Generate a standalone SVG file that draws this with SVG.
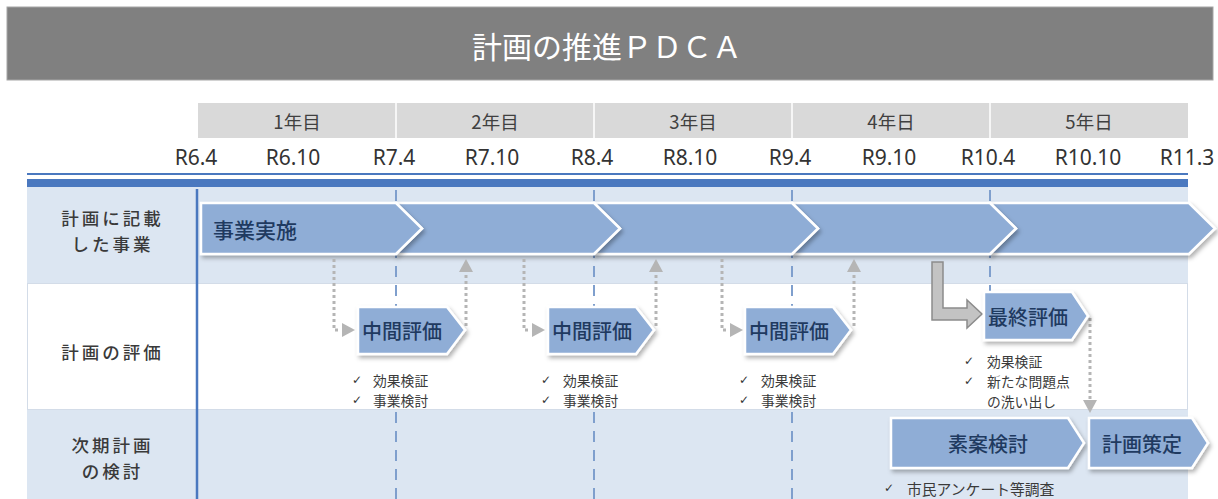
<svg xmlns="http://www.w3.org/2000/svg" width="1218" height="499" viewBox="0 0 1218 499">
<defs>
<style>
.jp{font-family:"Noto Sans CJK JP","Noto Sans",sans-serif;}
.lbl{font-family:"Noto Sans CJK JP",sans-serif;font-size:17.5px;font-weight:500;letter-spacing:3px;fill:#3a3a3a;text-anchor:middle;dominant-baseline:central;}
.yr{font-family:"Noto Sans CJK JP",sans-serif;font-size:18.5px;fill:#404040;text-anchor:middle;dominant-baseline:central;}
.dt{font-family:"Noto Sans","Noto Sans CJK JP",sans-serif;font-size:21px;fill:#333;text-anchor:middle;dominant-baseline:central;}
.bx{fill:#8fadd6;stroke:#ffffff;stroke-width:2.5;filter:url(#sh);}
.bt{font-family:"Noto Sans CJK JP",sans-serif;font-size:20px;font-weight:500;fill:#1f3a60;text-anchor:middle;dominant-baseline:central;}
.ck{font-family:"DejaVu Sans",sans-serif;font-size:12px;fill:#333;dominant-baseline:central;}
.ct{font-family:"Noto Sans CJK JP",sans-serif;font-size:13.8px;fill:#3a3a3a;dominant-baseline:central;}
.dash{stroke:#7f9fcd;stroke-width:2;stroke-dasharray:11 8;fill:none;}
.dot{stroke:#b5b5b5;stroke-width:3;stroke-dasharray:3 3;fill:none;}
.ah{fill:#b5b5b5;}
</style>
<filter id="sh" x="-10%" y="-20%" width="130%" height="160%">
<feDropShadow dx="2" dy="3" stdDeviation="2" flood-color="#000" flood-opacity="0.3"/>
</filter>
</defs>

<!-- title -->
<g id="title">
<rect x="7" y="7" width="1206" height="73" fill="#808080" stroke="#a6a6a6" stroke-width="1"/>
<text x="607" y="45" class="jp" font-size="30" fill="#ffffff" text-anchor="middle" dominant-baseline="central">計画の推進ＰＤＣＡ</text>
</g>

<!-- year header -->
<g id="years">
<rect x="198" y="103" width="990" height="35" fill="#d9d9d9"/>
<line x1="396" y1="103" x2="396" y2="138" stroke="#ffffff" stroke-width="1.5"/>
<line x1="594" y1="103" x2="594" y2="138" stroke="#ffffff" stroke-width="1.5"/>
<line x1="792" y1="103" x2="792" y2="138" stroke="#ffffff" stroke-width="1.5"/>
<line x1="990" y1="103" x2="990" y2="138" stroke="#ffffff" stroke-width="1.5"/>
<text class="yr" x="297" y="121">1年目</text>
<text class="yr" x="495" y="121">2年目</text>
<text class="yr" x="693" y="121">3年目</text>
<text class="yr" x="891" y="121">4年日</text>
<text class="yr" x="1089" y="121">5年日</text>
</g>

<g id="dates">
<text class="dt" x="196" y="157">R6.4</text>
<text class="dt" x="293" y="157">R6.10</text>
<text class="dt" x="394" y="157">R7.4</text>
<text class="dt" x="492" y="157">R7.10</text>
<text class="dt" x="592" y="157">R8.4</text>
<text class="dt" x="690" y="157">R8.10</text>
<text class="dt" x="790" y="157">R9.4</text>
<text class="dt" x="889" y="157">R9.10</text>
<text class="dt" x="988" y="157">R10.4</text>
<text class="dt" x="1088" y="157">R10.10</text>
<text class="dt" x="1187" y="157">R11.3</text>
</g>

<!-- grid -->
<g id="grid">
<rect x="27" y="173" width="1161" height="2" fill="#4a78bf"/>
<rect x="27" y="179" width="1161" height="8" fill="#4a78bf"/>
<rect x="27" y="187" width="1161" height="96" fill="#dce6f2"/>
<rect x="27.5" y="283.5" width="1160" height="126" fill="#ffffff" stroke="#d3dce8" stroke-width="1"/>
<rect x="27" y="410" width="1161" height="89" fill="#dce6f2"/>
<line x1="197" y1="189" x2="197" y2="499" stroke="#4a78bf" stroke-width="2.5"/>
<path class="dash" d="M396,190 V307 M396,412 V499 M594,190 V307 M594,412 V499 M792,190 V307 M792,412 V499 M990,190 V291"/>
</g>

<!-- row labels -->
<g id="row-labels">
<text class="lbl" x="112.5" y="217">計画に記載</text>
<text class="lbl" x="112.5" y="243">した事業</text>
<text class="lbl" x="112.5" y="351">計画の評価</text>
<text class="lbl" x="112.5" y="444">次期計画</text>
<text class="lbl" x="112.5" y="470">の検討</text>
</g>

<!-- chevron band -->
<g id="jigyo">
<path class="bx" d="M990,203 H1189 L1215,228.5 L1189,254 H990 L1016,228.5 Z"/>
<path class="bx" d="M792,203 H990 L1016,228.5 L990,254 H792 L818,228.5 Z"/>
<path class="bx" d="M594,203 H792 L818,228.5 L792,254 H594 L620,228.5 Z"/>
<path class="bx" d="M396,203 H594 L620,228.5 L594,254 H396 L422,228.5 Z"/>
<path class="bx" d="M201,203 H396 L422,228.5 L396,254 H201 Z"/>
<text class="bt" x="213" y="229" style="text-anchor:start;font-size:21px">事業実施</text>
</g>

<!-- connectors -->
<g id="connectors">
<path class="dot" d="M334,259 V330 H340"/>
<polygon class="ah" points="342,323 355,330 342,337"/>
<path class="dot" d="M466,326 V272"/>
<polygon class="ah" points="459,272 466,259 473,272"/>
<path class="dot" d="M524,259 V330 H530"/>
<polygon class="ah" points="532,323 545,330 532,337"/>
<path class="dot" d="M656,326 V272"/>
<polygon class="ah" points="649,272 656,259 663,272"/>
<path class="dot" d="M722,259 V330 H728"/>
<polygon class="ah" points="730,323 743,330 730,337"/>
<path class="dot" d="M854,326 V272"/>
<polygon class="ah" points="847,272 854,259 861,272"/>
<path class="dot" d="M1090,318 V400"/>
<polygon class="ah" points="1083,400 1090,413 1097,400"/>
<polygon points="932,262 943,262 943,308 967,308 967,300 982,314 967,328 967,320 932,320" fill="#c3c3c3" stroke="#8c8c8c" stroke-width="1.5"/>
</g>

<!-- evaluation nodes -->
<g id="eval1">
<path class="bx" d="M358,307 H447 L465,330 L447,354 H358 Z"/>
<text class="bt" x="402" y="330">中間評価</text>
<text class="ck" x="352" y="380">✓</text><text class="ct" x="373" y="380">効果検証</text>
<text class="ck" x="352" y="400">✓</text><text class="ct" x="373" y="400">事業検討</text>
</g>
<g id="eval2">
<path class="bx" d="M548,307 H636 L654,330 L636,354 H548 Z"/>
<text class="bt" x="592" y="330">中間評価</text>
<text class="ck" x="541" y="380">✓</text><text class="ct" x="563" y="380">効果検証</text>
<text class="ck" x="541" y="400">✓</text><text class="ct" x="563" y="400">事業検討</text>
</g>
<g id="eval3">
<path class="bx" d="M745,307 H833 L851,330 L833,354 H745 Z"/>
<text class="bt" x="789" y="330">中間評価</text>
<text class="ck" x="739" y="380">✓</text><text class="ct" x="761" y="380">効果検証</text>
<text class="ck" x="739" y="400">✓</text><text class="ct" x="761" y="400">事業検討</text>
</g>
<g id="eval-final">
<path class="bx" d="M984,292 H1072 L1088,316 L1072,340 H984 Z"/>
<text class="bt" x="1028" y="316">最終評価</text>
<text class="ck" x="964" y="361">✓</text><text class="ct" x="987" y="361">効果検証</text>
<text class="ck" x="964" y="381">✓</text><text class="ct" x="987" y="381">新たな問題点</text>
<text class="ct" x="987" y="401">の洗い出し</text>
</g>

<!-- next plan nodes -->
<g id="soan">
<path class="bx" d="M891,418 H1068 L1084,443 L1068,468 H891 Z"/>
<text class="bt" x="988" y="443">素案検討</text>
<text class="ck" x="884" y="488">✓</text><text class="ct" x="907" y="488" style="font-size:14.8px">市民アンケート等調査</text>
</g>
<g id="sakutei">
<path class="bx" d="M1089,418 H1192 L1208,443 L1192,468 H1089 Z"/>
<text class="bt" x="1142" y="443">計画策定</text>
</g>
</svg>
